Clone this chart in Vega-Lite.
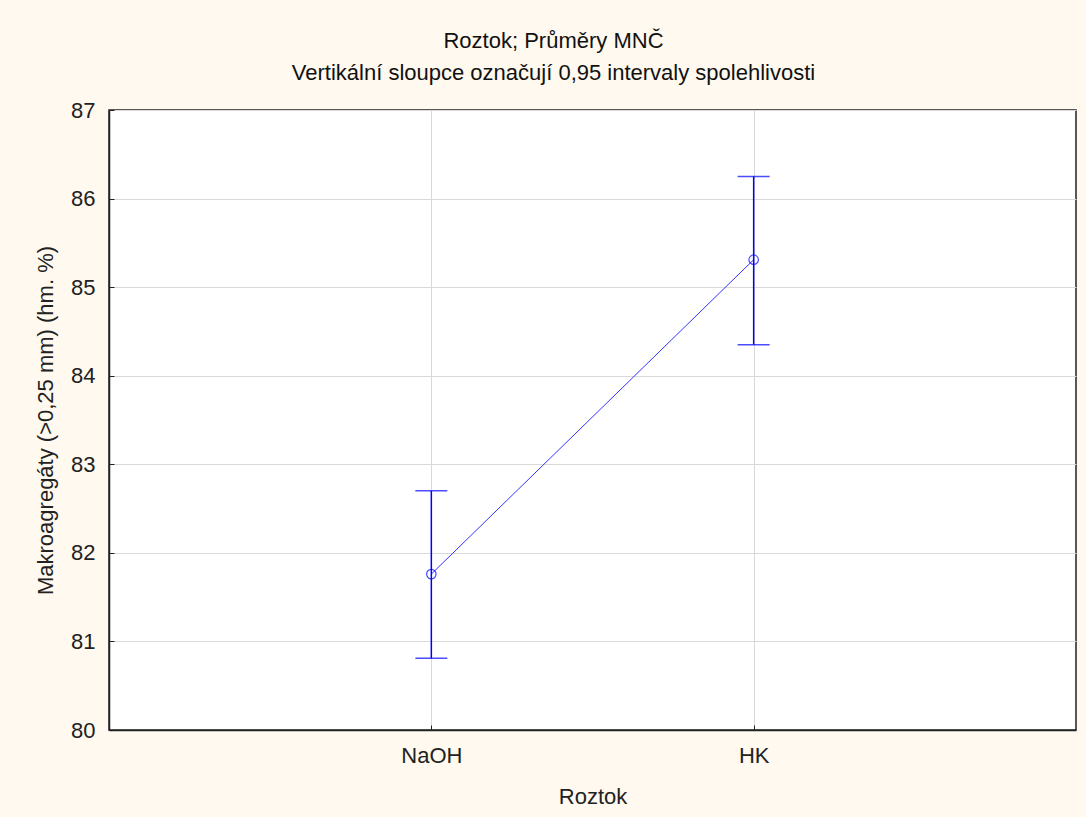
{
  "$schema": "https://vega.github.io/schema/vega-lite/v6.json",
  "width": 967,
  "height": 620,
  "autosize": {"type": "none"},
  "padding": {"left": 109, "top": 110, "right": 10, "bottom": 87},
  "background": "#FFF9EF",
  "config": {
    "font": "Liberation Sans",
    "view": {"fill": "white", "stroke": "#222222", "strokeWidth": 1.5},
    "axis": {
      "labelFont": "Liberation Sans",
      "titleFont": "Liberation Sans",
      "labelFontSize": 22,
      "titleFontSize": 22,
      "titleFontWeight": "normal",
      "labelColor": "#222222",
      "titleColor": "#222222",
      "gridColor": "#D9D9D9",
      "gridWidth": 1,
      "domainColor": "#222222",
      "domainWidth": 1.5,
      "tickColor": "#222222",
      "tickSize": -5
    }
  },
  "title": {
    "text": "Roztok; Průměry MNČ",
    "subtitle": "Vertikální sloupce označují 0,95 intervaly spolehlivosti",
    "font": "Liberation Sans",
    "subtitleFont": "Liberation Sans",
    "fontSize": 22,
    "subtitleFontSize": 22,
    "fontWeight": "normal",
    "color": "#111111",
    "subtitleColor": "#111111",
    "anchor": "middle",
    "frame": "group",
    "dx": -39,
    "offset": 14,
    "subtitlePadding": 10
  },
  "data": {
    "values": [
      {"Roztok": "NaOH", "mean": 81.76, "lower": 80.81, "upper": 82.70},
      {"Roztok": "HK", "mean": 85.31, "lower": 84.35, "upper": 86.25}
    ]
  },
  "encoding": {
    "x": {
      "field": "Roztok",
      "type": "nominal",
      "sort": ["NaOH", "HK"],
      "scale": {"type": "point", "padding": 1},
      "axis": {"title": "Roztok", "labelAngle": 0, "grid": true, "labelPadding": 20, "titlePadding": 20}
    }
  },
  "layer": [
    {
      "mark": {"type": "line", "color": "#3535FF", "strokeWidth": 1},
      "encoding": {
        "y": {
          "field": "mean",
          "type": "quantitative",
          "scale": {"domain": [80, 87], "nice": false, "zero": false},
          "axis": {"title": "Makroagregáty (>0,25 mm) (hm. %)", "values": [80, 81, 82, 83, 84, 85, 86, 87], "format": "d", "grid": true, "labelPadding": 19, "titlePadding": 13}
        }
      }
    },
    {
      "mark": {"type": "rule", "color": "#0000FF", "strokeWidth": 1.5},
      "encoding": {
        "y": {"field": "lower", "type": "quantitative"},
        "y2": {"field": "upper"}
      }
    },
    {
      "mark": {"type": "tick", "color": "#0000FF", "size": 32, "thickness": 1.5, "orient": "horizontal"},
      "encoding": {"y": {"field": "upper", "type": "quantitative"}}
    },
    {
      "mark": {"type": "tick", "color": "#0000FF", "size": 32, "thickness": 1.5, "orient": "horizontal"},
      "encoding": {"y": {"field": "lower", "type": "quantitative"}}
    },
    {
      "mark": {"type": "point", "shape": "circle", "filled": false, "color": "#0000FF", "size": 90, "strokeWidth": 1.2},
      "encoding": {"y": {"field": "mean", "type": "quantitative"}}
    }
  ]
}
